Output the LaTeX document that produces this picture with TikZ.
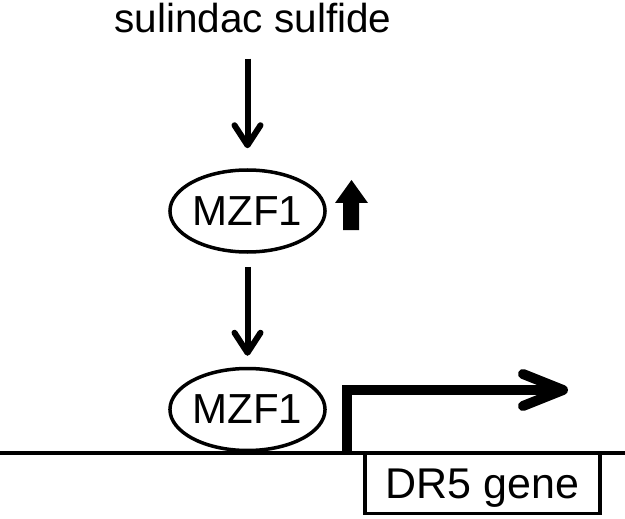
\documentclass[tikz,border=0pt]{standalone}
\usepackage{fontspec}
\setmainfont{Liberation Sans}
\usetikzlibrary{shapes.geometric,arrows.meta}
\begin{document}
\begin{tikzpicture}[x=1pt,y=-1pt,
  lbl/.style={font=\fontsize{40.5}{44}\selectfont, inner sep=0pt},
  prot/.style={ellipse, draw, line width=3.5pt, minimum width=155pt, minimum height=82pt, inner sep=0pt, font=\fontsize{42}{46}\selectfont},
  genebox/.style={rectangle, draw, line width=3.5pt, minimum width=235pt, minimum height=60pt, inner sep=0pt, text depth=0pt, font=\fontsize{43}{47}\selectfont},
  arr/.style={line width=6pt, -{Straight Barb[length=20pt,width=26pt,line cap=round,line join=round]}},
  promarr/.style={line width=10pt, line join=miter, -{Straight Barb[length=40pt,width=32pt,line cap=round,line join=round]}}
]
\useasboundingbox (0,0) rectangle (625,519);
\node[lbl, anchor=base] (sulf) at (253,32.5) {sulindac sulfide};
\node[prot] (mzfa) at (247.5,211) {MZF1};
\node[prot] (mzfb) at (247.5,409.5) {MZF1};
\coordinate (bl) at (0,453);
\coordinate (br) at (625,453);
\node[genebox] (gene) at (482.5,483.5) {DR5 gene};
\coordinate (pstart) at (347,453);
\coordinate (pend) at (568,390);
% connectors
\draw[arr, shorten <=25.5pt, shorten >=20pt] (sulf.south -| mzfa.north) -- (mzfa.north);
\draw[arr, shorten <=13pt, shorten >=11pt] (mzfa.south) -- (mzfb.north);
\draw[line width=3.5pt] (bl) -- (br);
\draw[promarr] (pstart) |- (pend);
% up-regulation block arrow
\fill (335,203) -- (351.5,180) -- (368,203) -- (359,203) -- (359,230) -- (343,230) -- (343,203) -- cycle;
\end{tikzpicture}
\end{document}
